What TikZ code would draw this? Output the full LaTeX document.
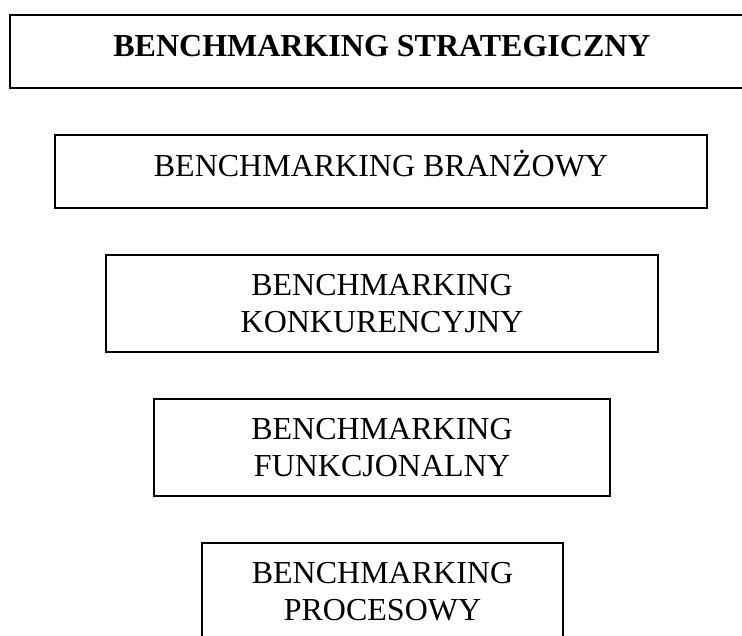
\documentclass[tikz,border=0pt]{standalone}
\usepackage{fontspec}
\setmainfont{Liberation Serif}
\usepackage{tikz}
\usetikzlibrary{positioning}

\begin{document}
\begin{tikzpicture}[
			x=1pt, y=-1pt,
			every node/.style={font=\fontsize{32}{37}\selectfont, inner sep=0pt},
			box/.style={draw, line width=1.3pt, align=center},
			onebox/.style={box, minimum height=73pt, text height=22pt, text depth=13pt},
			twobox/.style={box, minimum height=97pt}
		]

		\useasboundingbox (0,0) rectangle (742,635);

		% single-line boxes
		\node[onebox, minimum width=744pt, font=\fontsize{32}{37}\selectfont\bfseries] (strat) at (382,51.5) {BENCHMARKING STRATEGICZNY};
		\node[onebox, minimum width=652pt] (branz) at (381,171.5) {BENCHMARKING BRANŻOWY};

		% two-line boxes
		\node[twobox, minimum width=552pt, text width=540pt] (konk) at (382,303.5) {BENCHMARKING\\KONKURENCYJNY};
		\node[twobox, minimum width=456pt, text width=444pt] (funk) at (382,447.5) {BENCHMARKING\\FUNKCJONALNY};
		\node[twobox, minimum width=361pt, text width=349pt] (proc) at (382.5,591.5) {BENCHMARKING\\PROCESOWY};

	\end{tikzpicture}
\end{document}
